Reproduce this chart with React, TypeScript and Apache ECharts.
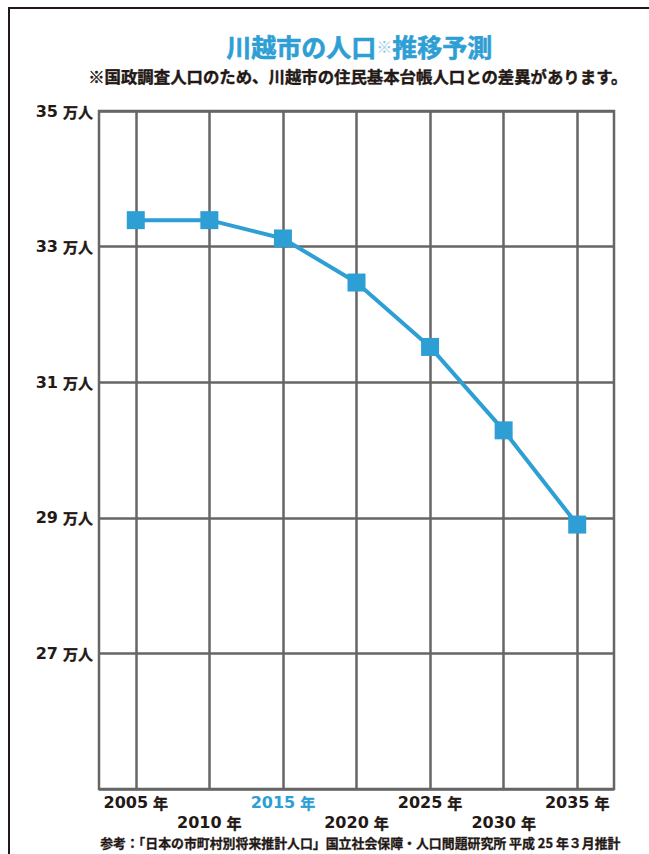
import React, { useEffect, useRef } from "react";
import * as echarts from "echarts";

const years = ["2005", "2010", "2015", "2020", "2025", "2030", "2035"];
const population = [33.39, 33.39, 33.12, 32.47, 31.52, 30.29, 28.9];
const highlightYear = "2015";
const yMin = 25;
const yMax = 35;
const yStep = 2;

const title = "川越市の人口";
const titleMark = "※";
const titleTail = "推移予測";
const subtitle = "※国政調査人口のため、川越市の住民基本台帳人口との差異があります。";
const footnote = "参考：「日本の市町村別将来推計人口」国立社会保障・人口問題研究所 平成 25 年３月推計";

const BLUE = "#2e9fd4";
const DARK = "#231815";
const GRID = "#666666";
const FONT = '"Noto Sans CJK JP", "Noto Sans", sans-serif';
const NUMFONT = '"DejaVu Sans", "Noto Sans CJK JP", sans-serif';

export default function App() {
  const ref = useRef<HTMLDivElement>(null);
  useEffect(() => {
    if (!ref.current) return;
    const chart = echarts.init(ref.current, null, { renderer: "svg" });
    const num = (color: string) => ({
      fontSize: 16,
      fontWeight: "bold",
      color,
      fontFamily: NUMFONT,
      lineHeight: 16,
    });
    const unit = (color: string) => ({
      fontSize: 15,
      fontWeight: "bold",
      color,
      fontFamily: FONT,
      lineHeight: 16,
      textBorderColor: color,
      textBorderWidth: 0.4,
    });
    chart.setOption({
      animation: false,
      backgroundColor: "#ffffff",
      textStyle: { fontFamily: FONT },
      graphic: [
        { type: "line", shape: { x1: 8, y1: 8, x2: 649, y2: 8 }, style: { stroke: DARK, lineWidth: 2 } },
        { type: "line", shape: { x1: 9, y1: 8, x2: 9, y2: 854 }, style: { stroke: DARK, lineWidth: 2 } },
        {
          type: "text",
          left: 226,
          top: 33,
          style: {
            text: `{t|${title}}{m|${titleMark}}{t|${titleTail}}`,
            rich: {
              t: {
                fontSize: 25,
                fontWeight: "bold",
                fill: BLUE,
                fontFamily: FONT,
                stroke: BLUE,
                lineWidth: 0.6,
              },
              m: { fontSize: 16, fontWeight: "bold", fill: "#8fcbe8", fontFamily: FONT },
            },
          },
        },
        {
          type: "text",
          left: 88,
          top: 68,
          style: {
            text: subtitle,
            fontSize: 16.4,
            fontWeight: "bold",
            fill: DARK,
            fontFamily: FONT,
            stroke: DARK,
            lineWidth: 0.4,
          },
        },
        {
          type: "text",
          left: 100,
          top: 836,
          style: {
            text: footnote,
            fontSize: 12.9,
            fontWeight: "bold",
            fill: DARK,
            fontFamily: FONT,
            stroke: DARK,
            lineWidth: 0.3,
          },
        },
      ],
      grid: {
        left: 99,
        right: 35,
        top: 111,
        bottom: 65,
        show: true,
        borderColor: GRID,
        borderWidth: 2.5,
        backgroundColor: "transparent",
      },
      xAxis: {
        type: "category",
        data: years,
        boundaryGap: true,
        axisLine: { show: false },
        axisTick: { show: false },
        splitLine: { show: false },
        axisLabel: {
          interval: 0,
          margin: 5,
          formatter: (v: string, i: number) => {
            const hl = v === highlightYear;
            const s = `{${hl ? "nb" : "n"}|${v}}{s| }{${hl ? "ub" : "u"}|年}`;
            return i % 2 === 1 ? "{e| }\n" + s : s;
          },
          rich: {
            e: { fontSize: 2, lineHeight: 20 },
            s: { fontSize: 12, width: 5, lineHeight: 16 },
            n: num(DARK),
            u: unit(DARK),
            nb: num(BLUE),
            ub: unit(BLUE),
          },
        },
      },
      yAxis: {
        type: "value",
        min: yMin,
        max: yMax,
        interval: yStep,
        axisLine: { show: false },
        axisTick: { show: false },
        splitLine: { show: true, lineStyle: { color: GRID, width: 2.5 } },
        axisLabel: {
          margin: 6,
          formatter: (v: number) => (v === yMin ? "" : `{n|${v}}{s| }{u|万人}`),
          rich: {
            n: num(DARK),
            s: { fontSize: 12, width: 5 },
            u: unit(DARK),
          },
        },
      },
      series: [
        {
          type: "line",
          data: population,
          z: 3,
          symbol: "rect",
          symbolSize: 18,
          lineStyle: { color: BLUE, width: 4 },
          itemStyle: { color: BLUE },
          markLine: {
            silent: true,
            z: 1,
            symbol: "none",
            label: { show: false },
            lineStyle: { color: GRID, width: 2.5, type: "solid" },
            data: years.map((y) => ({ xAxis: y })),
          },
        },
      ],
    });
    return () => chart.dispose();
  }, []);
  return (
    <div
      ref={ref}
      style={{ position: "fixed", left: 0, top: 0, width: 649, height: 854 }}
    />
  );
}
